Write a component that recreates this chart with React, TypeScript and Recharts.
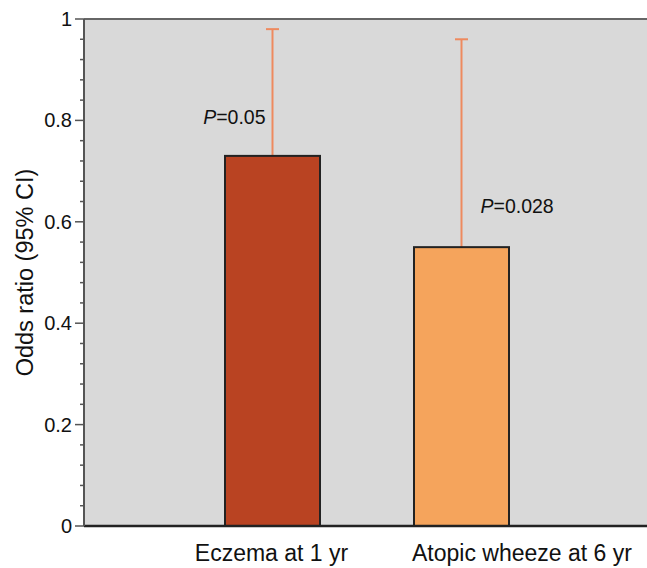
import React from 'react';
import { BarChart, Bar, XAxis, YAxis, CartesianGrid, Cell, LabelList, ReferenceLine, Label } from 'recharts';

const categories = ['Eczema at 1 yr', 'Atopic wheeze at 6 yr'];
const oddsRatios = [0.73, 0.55];
const upperCI = [0.98, 0.96];
const pValues = ['0.05', '0.028'];
const yMajorTicks = [0, 0.2, 0.4, 0.6, 0.8, 1];
const yMinorTicks = [0.04, 0.08, 0.12, 0.16, 0.24, 0.28, 0.32, 0.36, 0.44, 0.48, 0.52, 0.56, 0.64, 0.68, 0.72, 0.76, 0.84, 0.88, 0.92, 0.96];

const data = categories.map((name, i) => ({ name, or: oddsRatios[i], upper: upperCI[i], p: pValues[i] }));
const allTicks = [...yMajorTicks, ...yMinorTicks].sort((a, b) => a - b);

const barFills = ['#b94322', '#f5a45c'];
const ciColor = '#ee8a5f';
const font = '"Liberation Sans", Arial, Helvetica, sans-serif';

const YTick = (props: any) => {
  const { x, y, payload } = props;
  const major = yMajorTicks.includes(payload.value);
  return (
    <g>
      <line x1={x - (major ? 9 : 4)} x2={x} y1={y} y2={y} stroke="#555" strokeWidth={1.5} />
      {major && (
        <text x={x - 12} y={y} dy="0.35em" textAnchor="end" fontSize={20} fontFamily={font} fill="#111">
          {payload.value}
        </text>
      )}
    </g>
  );
};

const XTick = (props: any) => {
  const { x, y, payload, index } = props;
  // second label is pushed right in the original so the two do not collide
  const first = index === 0;
  return (
    <text x={first ? x - 1 : x - 49.5} y={y + 35} textAnchor={first ? 'middle' : 'start'} fontSize={23} fontFamily={font} fill="#111">
      {payload.value}
    </text>
  );
};

const BarWithCI = (props: any) => {
  const { x, y, width, height, fill, payload } = props;
  const perUnit = height / payload.or;
  const yHi = y + height - payload.upper * perUnit;
  const cx = x + width / 2;
  return (
    <g>
      <line x1={cx} x2={cx} y1={y} y2={yHi} stroke={ciColor} strokeWidth={2} />
      <line x1={cx - 6.5} x2={cx + 6.5} y1={yHi} y2={yHi} stroke={ciColor} strokeWidth={2} />
      <rect x={x} y={y} width={width} height={height} fill={fill} stroke="#222" strokeWidth={2} />
    </g>
  );
};

const PLabel = (props: any) => {
  const { x, y, width, value, index } = props;
  const cx = x + width / 2;
  const first = index === 0;
  return (
    <text
      x={first ? cx - 7 : cx + 19}
      y={first ? y - 39 : y - 41}
      dy="0.35em"
      textAnchor={first ? 'end' : 'start'}
      fontSize={19.5}
      fontFamily={font}
      fill="#111"
    >
      <tspan fontStyle="italic">P</tspan>={value}
    </text>
  );
};

const YLabel = (props: any) => {
  const { viewBox } = props;
  const cx = 25;
  const cy = viewBox.y + viewBox.height / 2;
  return (
    <text x={cx} y={cy} dy="0.35em" transform={`rotate(-90 ${cx} ${cy})`} textAnchor="middle" fontSize={23.5} fontFamily={font} fill="#111">
      Odds ratio (95% CI)
    </text>
  );
};

export default function App() {
  return (
    <div style={{ position: 'absolute', left: 0, top: 0 }}>
      <BarChart width={647} height={568} data={data} margin={{ top: 19, right: 0, bottom: 0, left: 0 }}>
        <CartesianGrid fill="#d9d9d9" horizontal={false} vertical={false} />
        <XAxis
          dataKey="name"
          height={42}
          padding={{ left: 94, right: 91 }}
          axisLine={{ stroke: '#222', strokeWidth: 2.5 }}
          tickLine={false}
          tickSize={0}
          tickMargin={0}
          tick={<XTick />}
          interval={0}
        />
        <YAxis
          type="number"
          domain={[0, 1]}
          ticks={allTicks}
          interval={0}
          width={84}
          axisLine={{ stroke: '#555', strokeWidth: 2 }}
          tickLine={false}
          tickSize={0}
          tickMargin={0}
          tick={<YTick />}
        >
          <Label content={<YLabel />} />
        </YAxis>
        <ReferenceLine y={1} stroke="#666" strokeWidth={2} />
        <Bar dataKey="or" barSize={95} shape={<BarWithCI />} isAnimationActive={false}>
          {data.map((d, i) => (
            <Cell key={d.name} fill={barFills[i]} />
          ))}
          <LabelList dataKey="p" content={<PLabel />} />
        </Bar>
      </BarChart>
    </div>
  );
}
